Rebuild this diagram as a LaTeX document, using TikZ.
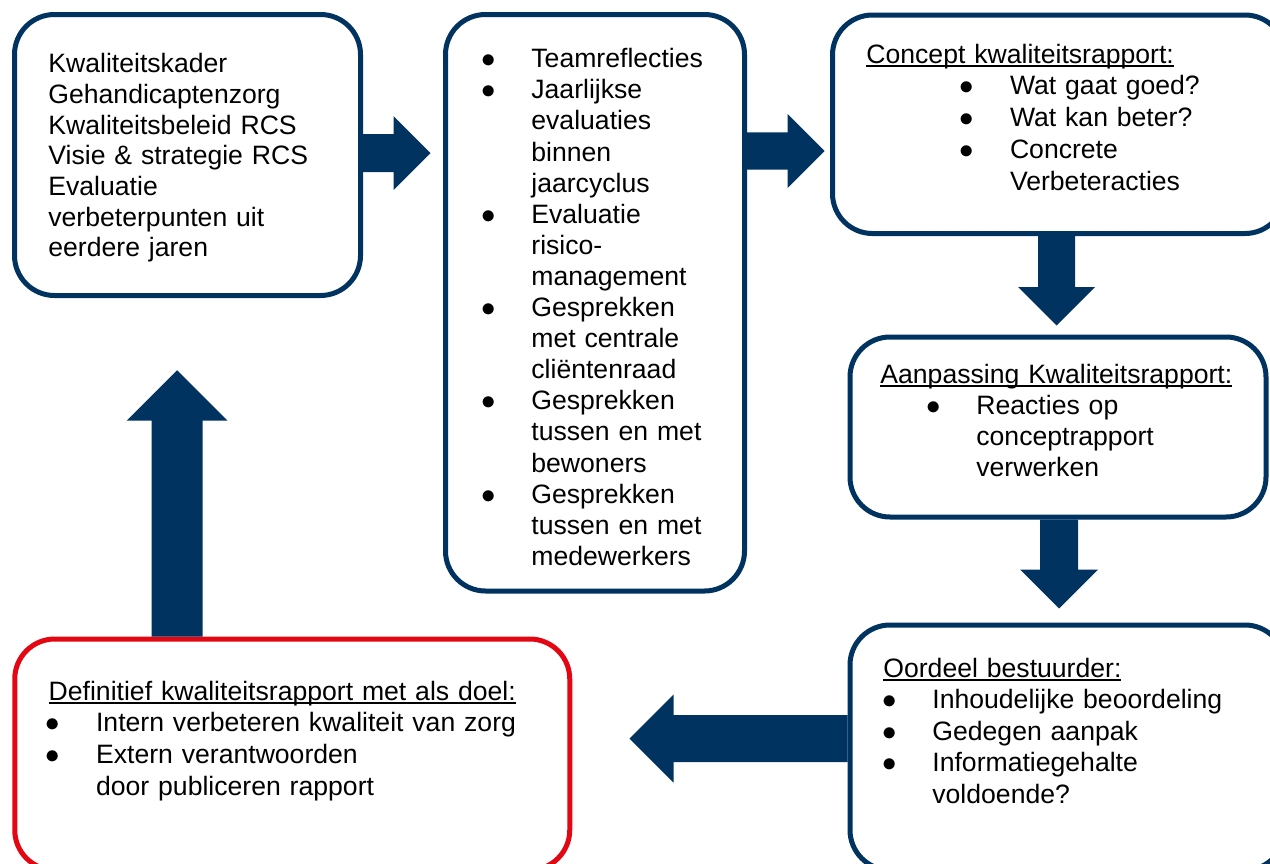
\documentclass[tikz,border=0pt]{standalone}
\usepackage{fontspec}
\setmainfont{Liberation Sans}
\usepackage{xcolor}
\usepackage{tikz}
\usetikzlibrary{calc}

\definecolor{rcsblue}{HTML}{00335F}
\definecolor{rcsred}{HTML}{E30613}

\newcommand{\kop}[1]{\leavevmode\setbox0=\hbox{#1}\rlap{\rule[-2pt]{\wd0}{1pt}}\box0}
\newcommand{\itm}[1][0pt]{\leavevmode\hspace*{#1}\makebox[0pt]{$\bullet$}\hspace*{21.5pt}}
\newcommand{\cnt}[1][0pt]{\leavevmode\hspace*{#1}\hspace*{21.5pt}}

\tikzset{
  procbox/.style={
    draw=rcsblue,
    line width=2.5pt,
    rounded corners=20pt,
    fill=white,
    inner sep=0pt
  },
  finalbox/.style={
    procbox,
    draw=rcsred
  },
  boxtext/.style={
    anchor=base west,
    inner sep=0pt,
    text width=300pt,
    align=left,
    font=\fontsize{13.3pt}{#1}\selectfont
  },
  boxtext/.default=15.5pt,
  pics/blockarrow/.style args={#1/#2/#3}{
    code={
      \fill[rcsblue] (0,-#2) -- (#1-#3,-#2) -- (#1-#3,-#3) -- (#1,0)
        -- (#1-#3,#3) -- (#1-#3,#2) -- (0,#2) -- cycle;
    }
  }
}

\begin{document}
\begin{tikzpicture}[x=0.5pt,y=-0.5pt]
  \useasboundingbox (0,0) rectangle (1270,863);
  \clip (0,0) rectangle (1270,863);

  % boxes
  \node[procbox, minimum width=173pt, minimum height=140.5pt] (kader) at (187.5,155) {};
  \node[procbox, minimum width=149.5pt, minimum height=288.25pt] (bronnen) at (595,302.75) {};
  \node[procbox, minimum width=226.25pt, minimum height=109.25pt] (concept) at (1058.75,124.25) {};
  \node[procbox, minimum width=208pt, minimum height=90pt] (aanpassing) at (1058,427) {};
  \node[procbox, minimum width=217.5pt, minimum height=122.5pt] (oordeel) at (1067.5,747.5) {};
  \node[finalbox, minimum width=277.5pt, minimum height=115.5pt] (definitief) at (292.25,754.5) {};

  % arrows between the boxes
  \pic at (kader.east |- 0,153) {blockarrow={67.5/19/37}};
  \pic at (bronnen.east |- 0,151) {blockarrow={77.5/18.7/37}};
  \pic[rotate=-90] at (concept.south -| 1056.5,0) {blockarrow={89.5/18.5/38.5}};
  \pic[rotate=-90] at (aanpassing.south -| 1059,0) {blockarrow={89/19/39}};
  \pic[rotate=180] at (oordeel.west |- 0,738.5) {blockarrow={218/23.5/44}};
  \pic[rotate=90] at (definitief.north -| 177.2,0) {blockarrow={266.3/25.5/50.5}};

  % texts
  \node[boxtext=15.35pt] (kadertekst) at (48,72.7) {Kwaliteitskader\\ Gehandicaptenzorg\\
    Kwaliteitsbeleid RCS\\ Visie \& strategie RCS\\ Evaluatie\\ verbeterpunten uit\\ eerdere jaren};
  \node[boxtext=15.55pt] (bronnentekst) at (488,67.7) {\itm Teamreflecties\\
    \itm Jaarlijkse\\ \cnt evaluaties\\ \cnt binnen\\ \cnt jaarcyclus\\
    \itm Evaluatie\\ \cnt risico-\\ \cnt management\\
    \itm Gesprekken\\ \cnt met centrale\\ \cnt cliëntenraad\\
    \itm Gesprekken\\ \cnt tussen en met\\ \cnt bewoners\\
    \itm Gesprekken\\ \cnt tussen en met\\ \cnt medewerkers};
  \node[boxtext=15.9pt] (concepttekst) at (866,63) {\kop{Concept kwaliteitsrapport:}\\
    \itm[50.3pt]Wat gaat goed?\\ \itm[50.3pt]Wat kan beter?\\
    \itm[50.3pt]Concrete\\ \cnt[50.3pt]Verbeteracties};
  \node[boxtext=15.65pt] (aanpassingtekst) at (880,383) {\kop{Aanpassing Kwaliteitsrapport:}\\
    \itm[26.5pt]Reacties op\\ \cnt[26.5pt]conceptrapport\\ \cnt[26.5pt]verwerken};
  \node[boxtext=15.75pt] (oordeeltekst) at (883,677) {\kop{Oordeel bestuurder:}\\
    \itm[3pt]Inhoudelijke beoordeling\\ \itm[3pt]Gedegen aanpak\\
    \itm[3pt]Informatiegehalte\\ \cnt[3pt]voldoende?};
  \node[boxtext=15.85pt] (definitieftekst) at (48.3,700) {\kop{Definitief kwaliteitsrapport met als doel:}\\
    \itm[2.2pt]Intern verbeteren kwaliteit van zorg\\ \itm[2.2pt]Extern verantwoorden\\
    \cnt[2.2pt]door publiceren rapport};
\end{tikzpicture}
\end{document}
